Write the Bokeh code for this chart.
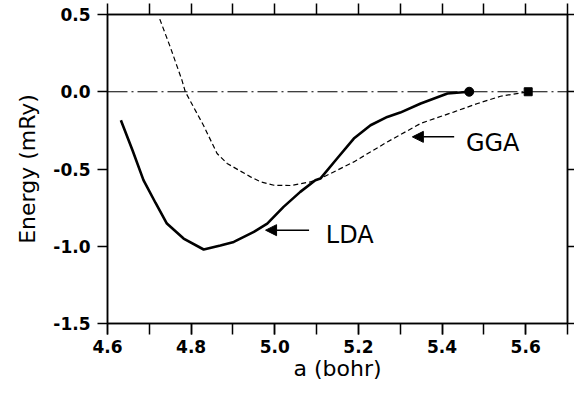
from bokeh.plotting import figure
from bokeh.models import (Range1d, LinearAxis, FixedTicker, Span, Arrow, NormalHead, Label,
                          NumeralTickFormatter, CustomJSTickFormatter)
from bokeh.embed import file_html
from bokeh.resources import INLINE

# ---- data ----
lda_x = [4.632, 4.66, 4.686, 4.715, 4.742, 4.782, 4.83, 4.87, 4.902, 4.95, 4.982,
         5.021, 5.061, 5.097, 5.109, 5.149, 5.189, 5.229, 5.269, 5.30, 5.349, 5.413, 5.465]
lda_y = [-0.184, -0.38, -0.572, -0.72, -0.853, -0.95, -1.021, -0.995, -0.972, -0.907, -0.853,
         -0.745, -0.648, -0.573, -0.562, -0.432, -0.303, -0.217, -0.163, -0.135, -0.076, -0.011, 0.0]

gga_x = [4.725, 4.75, 4.778, 4.786, 4.83, 4.862, 4.886, 4.942, 4.966, 4.998, 5.04,
         5.085, 5.109, 5.189, 5.269, 5.349, 5.429, 5.485, 5.54, 5.606]
gga_y = [0.47, 0.29, 0.075, 0.0, -0.22, -0.40, -0.464, -0.551, -0.583, -0.605, -0.607,
         -0.583, -0.562, -0.454, -0.325, -0.205, -0.130, -0.076, -0.029, 0.0]

end_circle = (5.465, 0.0)
end_square = (5.606, 0.0)

x_major = [4.6, 4.8, 5.0, 5.2, 5.4, 5.6]
x_minor = [4.6, 4.7, 4.8, 4.9, 5.0, 5.1, 5.2, 5.3, 5.4, 5.5, 5.6, 5.7]
y_major = [-1.5, -1.0, -0.5, 0.0, 0.5]

labels = ["LDA", "GGA"]
label_x = [5.122, 5.457]
label_y = [-0.93, -0.33]
arrow_tail_x = [5.082, 5.429]
arrow_tip_x = [4.978, 5.329]
arrow_y = [-0.896, -0.292]

TICK_FONT = "DejaVu Sans"
TEXT_FONT = "DejaVu Sans"

p = figure(width=574, height=383, output_backend="svg", toolbar_location=None,
           x_range=Range1d(4.6, 5.7), y_range=Range1d(-1.5, 0.5),
           min_border_left=107, min_border_right=7, min_border_top=14, min_border_bottom=60)
p.grid.visible = False
p.outline_line_color = "black"
p.outline_line_width = 1.5
p.background_fill_color = "white"
p.border_fill_color = "white"

def style(ax, tick_out):
    ax.axis_line_width = 1.5
    ax.axis_line_color = "black"
    ax.major_tick_line_width = 1.5
    ax.minor_tick_line_width = 1.5
    ax.major_tick_in = 0
    ax.minor_tick_in = 0
    ax.major_tick_out = tick_out
    ax.minor_tick_out = tick_out
    ax.major_label_text_font = TICK_FONT
    ax.major_label_text_font_style = "bold"
    ax.major_label_text_font_size = "17px"
    ax.major_label_text_color = "black"
    ax.axis_label_text_font = TEXT_FONT
    ax.axis_label_text_font_style = "normal"
    ax.axis_label_text_font_size = "22px"
    ax.axis_label_text_color = "black"

xa = p.xaxis[0]
xa.ticker = FixedTicker(ticks=x_major, minor_ticks=x_minor)
xa.formatter = NumeralTickFormatter(format="0.0")
style(xa, 11)
xa.major_label_standoff = 5
xa.axis_label = "a (bohr)"
xa.axis_label_standoff = 0

ya = p.yaxis[0]
ya.ticker = FixedTicker(ticks=y_major, minor_ticks=[])
ya.formatter = NumeralTickFormatter(format="0.0")
style(ya, 10)
ya.major_label_standoff = 7
ya.axis_label = "Energy (mRy)"
ya.axis_label_standoff = 10

empty = CustomJSTickFormatter(code="return ''")

top = LinearAxis(ticker=FixedTicker(ticks=x_minor, minor_ticks=[]), formatter=empty)
style(top, 11)
top.major_label_standoff = 0
p.add_layout(top, "above")

right = LinearAxis(ticker=FixedTicker(ticks=y_major, minor_ticks=[]), formatter=empty)
style(right, 7)
right.major_label_standoff = 0
p.add_layout(right, "right")

p.add_layout(Span(location=0, dimension="width", line_color="black",
                  line_width=1.2, line_dash="20 4 2 4"))

p.line(gga_x, gga_y, line_color="black", line_width=1.2, line_dash="5 3")
p.line(lda_x, lda_y, line_color="black", line_width=2.6)
p.scatter([end_circle[0]], [end_circle[1]], marker="circle", size=9, color="black")
p.scatter([end_square[0]], [end_square[1]], marker="square", size=8, color="black")

for i in range(2):
    p.add_layout(Arrow(end=NormalHead(size=11, fill_color="black", line_color="black"),
                       x_start=arrow_tail_x[i], y_start=arrow_y[i],
                       x_end=arrow_tip_x[i], y_end=arrow_y[i],
                       line_color="black", line_width=1.5))
    p.add_layout(Label(x=label_x[i], y=label_y[i], text=labels[i],
                       text_font=TEXT_FONT, text_font_size="24px", text_baseline="middle",
                       text_color="black"))

open("out.html", "w").write(file_html(p, INLINE))
